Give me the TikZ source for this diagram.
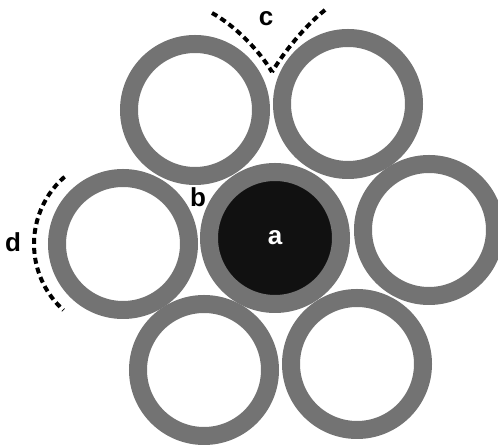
\documentclass[tikz,border=0pt]{standalone}
\usepackage{fontspec}
\setmainfont{Liberation Sans}
\usetikzlibrary{positioning}
\definecolor{ringgray}{HTML}{737373}
\definecolor{coreblack}{HTML}{111111}
\tikzset{
  ring/.style={circle, draw=ringgray, line width=18pt, minimum size=132pt, inner sep=0pt},
  core/.style={ring, fill=coreblack, text=white},
  lbl/.style={font=\fontsize{26}{30}\selectfont\bfseries, inner sep=0pt},
  dotline/.style={line width=4pt, dash pattern=on 6pt off 4pt},
}
\begin{document}
\begin{tikzpicture}[x=1pt, y=1pt]
    \useasboundingbox (0,0) rectangle (498,446);
    % strand rings
    \node[core, lbl] (a) at (275,208) {a};
    \node[ring] (tl) at (195,336) {};
    \node[ring] (tr) at (348,342) {};
    \node[ring] (lft) at (123,202) {};
    \node[ring] (rgt) at (429,216) {};
    \node[ring] (bl) at (204,76) {};
    \node[ring] (br) at (357,82) {};
    % labels
    \node[lbl] (b) at (198,249) {b};
    \node[lbl] (c) at (266,427) {c};
    \node[lbl] (d) at (13,204) {d};
    % dashed marks
    \coordinate (cl) at (212,433);
    \coordinate (cr) at (325,436);
    \coordinate (ctip) at (272,374);
    \draw[dotline] (cl) .. controls (234,421) and (259,396) .. (ctip);
    \draw[dotline] (cr) .. controls (305,420) and (284,394) .. (ctip);
    \draw[dotline] ([shift={(131:89)}]lft.center) arc[start angle=131, end angle=228, radius=89];
  \end{tikzpicture}
\end{document}
